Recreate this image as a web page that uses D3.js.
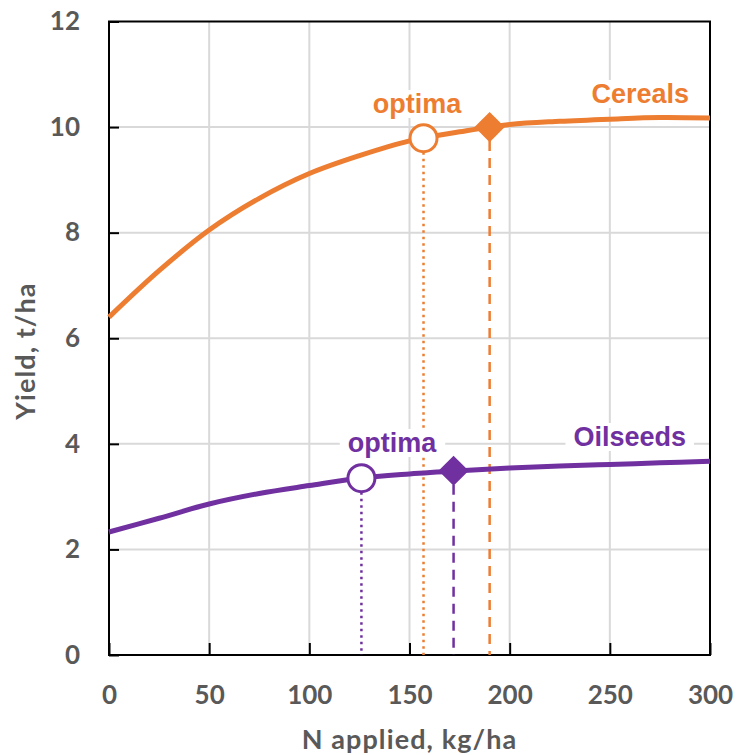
<!DOCTYPE html>
<html>
<head>
<meta charset="utf-8">
<script src="https://cdn.jsdelivr.net/npm/d3@7"></script>
<style>
  html, body { margin: 0; padding: 0; background: #fff; }
  svg { display: block; }
</style>
</head>
<body>
<svg id="chart" width="737" height="755"></svg>
<script>
// ---- data ----
const nApplied = [0, 25, 50, 75, 100, 125, 150, 175, 200, 225, 250, 275, 300];
const cerealsYield = [6.40, 7.28, 8.05, 8.65, 9.12, 9.46, 9.74, 9.91, 10.05, 10.11, 10.15, 10.18, 10.17];
const oilseedsYield = [2.33, 2.59, 2.86, 3.06, 3.21, 3.35, 3.43, 3.49, 3.54, 3.58, 3.61, 3.64, 3.67];
const seriesNames = ["Cereals", "Oilseeds"];
const optimaN = [157, 126];        // economic optima (open circles)
const optimaYield = [9.79, 3.35];
const maxN = [190, 172];           // max yield points (diamonds)
const maxYield = [10.0, 3.49];
const xTicks = [0, 50, 100, 150, 200, 250, 300];
const yTicks = [0, 2, 4, 6, 8, 10, 12];
const xTitle = "N applied, kg/ha";
const yTitle = "Yield, t/ha";
const optLabel = "optima";

const colors = ["#ED7D31", "#7030A0"];
const gray = "#595959";
const gridColor = "#D9D9D9";

const svg = d3.select("#chart");
const L = 109, R = 710, T = 21.5, B = 655;
const x = d3.scaleLinear().domain([0, 300]).range([L, R]);
const y = d3.scaleLinear().domain([0, 12]).range([B, T]);

// gridlines
const grid = svg.append("g");
grid.selectAll(".vg").data(xTicks.filter(d => d > 0 && d < 300)).join("line")
  .attr("x1", d => x(d)).attr("x2", d => x(d)).attr("y1", T).attr("y2", B)
  .attr("stroke", gridColor).attr("stroke-width", 2);
grid.selectAll(".hg").data(yTicks.filter(d => d > 0 && d < 12)).join("line")
  .attr("x1", L).attr("x2", R).attr("y1", d => y(d)).attr("y2", d => y(d))
  .attr("stroke", gridColor).attr("stroke-width", 2);

// axes
const tickFont = "Lato, 'DejaVu Sans', sans-serif";
const xAxis = svg.append("g").attr("transform", `translate(0,${B})`)
  .call(d3.axisBottom(x).tickValues(xTicks).tickSize(-12).tickPadding(31).tickSizeOuter(0));
const yAxis = svg.append("g").attr("transform", `translate(${L},0)`)
  .call(d3.axisLeft(y).tickValues(yTicks).tickSize(-10).tickPadding(29).tickSizeOuter(0));
[xAxis, yAxis].forEach(a => {
  a.select(".domain").remove();
  a.selectAll(".tick line").attr("stroke", "#000").attr("stroke-width", 2);
  a.selectAll(".tick text").attr("fill", gray).style("font-family", tickFont)
    .style("font-weight", 700).style("font-size", "26px");
});

// frame
svg.append("rect").attr("x", L).attr("y", T).attr("width", R - L).attr("height", B - T)
  .attr("fill", "none").attr("stroke", "#000").attr("stroke-width", 2);

// axis titles
svg.append("text").attr("x", (L + R) / 2).attr("y", 749).attr("text-anchor", "middle")
  .attr("fill", gray).style("font-family", tickFont).style("font-weight", 700)
  .style("font-size", "27px").style("letter-spacing", "1.1px").text(xTitle);
svg.append("text").attr("transform", `translate(35,351) rotate(-90)`)
  .attr("text-anchor", "middle")
  .attr("fill", gray).style("font-family", tickFont).style("font-weight", 700)
  .style("font-size", "27px").style("letter-spacing", "1.1px").text(yTitle);

const seriesData = [cerealsYield, oilseedsYield];

// vertical drop lines
const drops = svg.append("g");
seriesData.forEach((vals, i) => {
  drops.append("line").attr("x1", x(optimaN[i])).attr("x2", x(optimaN[i]))
    .attr("y1", y(optimaYield[i]) + 14).attr("y2", B)
    .attr("stroke", colors[i]).attr("stroke-width", 2.5).attr("stroke-dasharray", "2.5,4");
  drops.append("line").attr("x1", x(maxN[i])).attr("x2", x(maxN[i]))
    .attr("y1", y(maxYield[i]) + 14).attr("y2", B)
    .attr("stroke", colors[i]).attr("stroke-width", 2.5).attr("stroke-dasharray", "10,7");
});

// labels with white backgrounds
const labelFont = "'Liberation Sans', Arial, sans-serif";
function label(txt, cx, baseY, anchor, color) {
  const g = svg.append("g");
  const t = g.append("text").attr("x", cx).attr("y", baseY).attr("text-anchor", anchor)
    .attr("fill", color).style("font-family", labelFont).style("font-weight", 700)
    .style("font-size", "27px").text(txt);
  const bb = t.node().getBBox();
  g.insert("rect", "text").attr("x", bb.x - 8).attr("y", bb.y + 1)
    .attr("width", bb.width + 16).attr("height", bb.height - 2).attr("fill", "#fff");
}
label(optLabel, 417, 113, "middle", colors[0]);
label(seriesNames[0], 689, 103, "end", colors[0]);
label(optLabel, 392, 452, "middle", colors[1]);
label(seriesNames[1], 686, 446, "end", colors[1]);

// lines
const line = d3.line().x((d, j) => x(nApplied[j])).y(d => y(d)).curve(d3.curveCatmullRom.alpha(0.5));
seriesData.forEach((vals, i) => {
  svg.append("path").datum(vals).attr("d", line)
    .attr("fill", "none").attr("stroke", colors[i]).attr("stroke-width", 5)
    .attr("stroke-linejoin", "round");
});

// markers
seriesData.forEach((vals, i) => {
  svg.append("circle").attr("cx", x(optimaN[i])).attr("cy", y(optimaYield[i])).attr("r", 13.5)
    .attr("fill", "#fff").attr("stroke", colors[i]).attr("stroke-width", 3);
  svg.append("path")
    .attr("d", d3.symbol().type(d3.symbolDiamond2).size(580)())
    .attr("transform", `translate(${x(maxN[i])},${y(maxYield[i])})`)
    .attr("fill", colors[i]);
});
</script>
</body>
</html>
